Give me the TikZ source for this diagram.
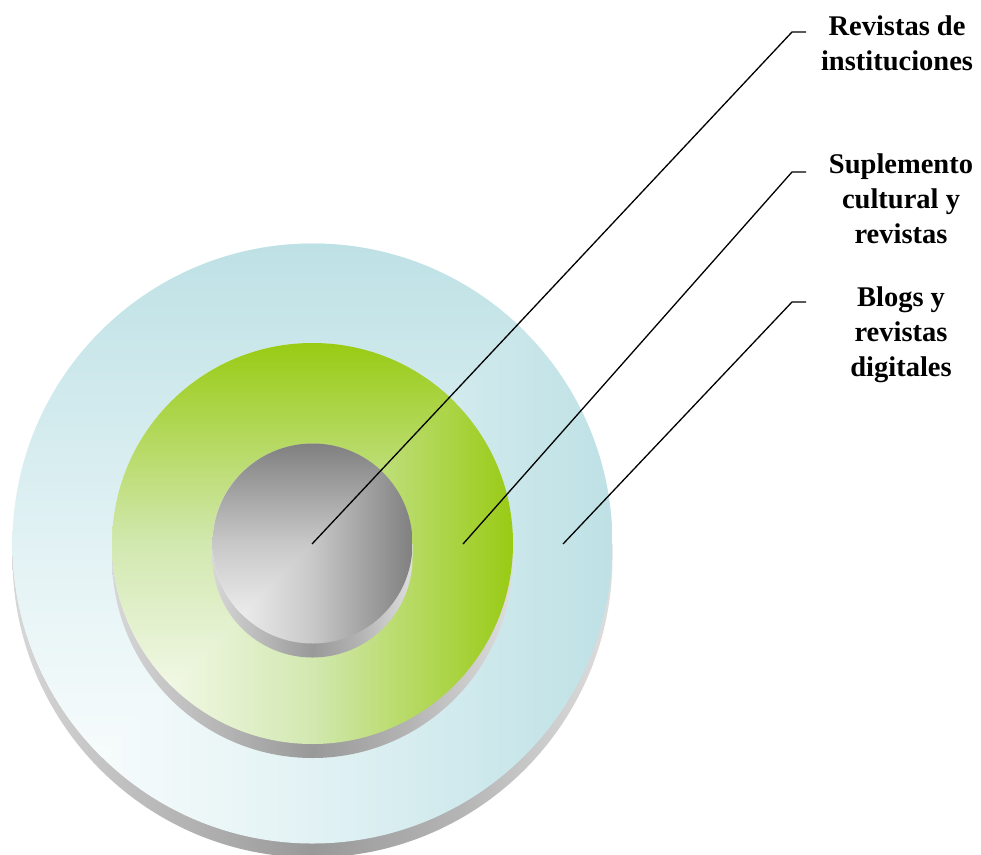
\documentclass[tikz,border=0pt]{standalone}
\usepackage{fontspec}
\setmainfont{Liberation Serif}
\definecolor{bl0}{RGB}{255,255,255}
\definecolor{blm}{RGB}{226,242,244}
\definecolor{bl1}{RGB}{190,225,229}
\definecolor{gr0}{RGB}{253,254,250}
\definecolor{grm}{RGB}{210,232,176}
\definecolor{gr1}{RGB}{153,203,20}
\definecolor{gy0}{RGB}{250,250,250}
\definecolor{gym}{RGB}{200,200,200}
\definecolor{gy1}{RGB}{128,128,128}
\definecolor{sd0}{RGB}{215,215,215}
\definecolor{sd1}{RGB}{153,153,153}
\definecolor{sd2}{RGB}{180,180,180}
\definecolor{sd3}{RGB}{222,222,222}
\pgfdeclarehorizontalshading{blH}{100bp}{color(0bp)=(bl0); color(25bp)=(bl0); color(50bp)=(blm); color(75bp)=(bl1); color(100bp)=(bl1)}
\pgfdeclareverticalshading{blV}{100bp}{color(0bp)=(bl0); color(25bp)=(bl0); color(50bp)=(blm); color(75bp)=(bl1); color(100bp)=(bl1)}
\pgfdeclarehorizontalshading{grH}{100bp}{color(0bp)=(gr0); color(25bp)=(gr0); color(50bp)=(grm); color(75bp)=(gr1); color(100bp)=(gr1)}
\pgfdeclareverticalshading{grV}{100bp}{color(0bp)=(gr0); color(25bp)=(gr0); color(50bp)=(grm); color(75bp)=(gr1); color(100bp)=(gr1)}
\pgfdeclarehorizontalshading{gyH}{100bp}{color(0bp)=(gy0); color(25bp)=(gy0); color(50bp)=(gym); color(75bp)=(gy1); color(100bp)=(gy1)}
\pgfdeclareverticalshading{gyV}{100bp}{color(0bp)=(gy0); color(25bp)=(gy0); color(50bp)=(gym); color(75bp)=(gy1); color(100bp)=(gy1)}
\pgfdeclarehorizontalshading{sideH}{100bp}{color(0bp)=(sd0); color(25bp)=(sd0); color(50bp)=(sd1); color(62bp)=(sd2); color(75bp)=(sd3); color(100bp)=(sd3)}
\newcommand\mydisk[5]{%
  \shade[shading=sideH] (#1-#3,#2) -- (#1-#3,#2+14) arc[start angle=180,end angle=0,radius=#3] -- (#1+#3,#2) -- cycle;
  \begin{scope}
    \clip (#1,#2) circle[radius=#3];
    \shade[shading=#4] (#1-#3,#2-#3) rectangle (#1+#3,#2+#3);
    \clip (#1-#3,#2+#3) -- (#1-#3,#2-#3) -- (#1+#3,#2-#3) -- cycle;
    \shade[shading=#5] (#1-#3,#2-#3) rectangle (#1+#3,#2+#3);
  \end{scope}}
\tikzset{
  lbl/.style={font=\fontsize{28.5}{35.2}\selectfont\bfseries, align=center, inner sep=0pt, anchor=north},
  leader/.style={draw=black, line width=1.3pt}
}
\begin{document}
\begin{tikzpicture}[x=1pt,y=-1pt]
\useasboundingbox (0,0) rectangle (981,854);
\mydisk{312.5}{543.5}{300}{blH}{blV}
\mydisk{312.5}{543.5}{200.5}{grH}{grV}
\mydisk{312.5}{543.5}{100}{gyH}{gyV}
\coordinate (p1) at (312,544);
\coordinate (k1) at (792,32);
\coordinate (e1) at (806,32);
\coordinate (p2) at (463,544);
\coordinate (k2) at (792,172);
\coordinate (e2) at (806,172);
\coordinate (p3) at (563,544);
\coordinate (k3) at (792,302);
\coordinate (e3) at (806,302);
\draw[leader] (p1) -- (k1) -- (e1);
\draw[leader] (p2) -- (k2) -- (e2);
\draw[leader] (p3) -- (k3) -- (e3);
\node[lbl] (t1) at (897,15.5) {Revistas de\\instituciones};
\node[lbl] (t2) at (901,153.5) {Suplemento\\cultural y\\revistas};
\node[lbl] (t3) at (901,286.5) {Blogs y\\revistas\\digitales};
\end{tikzpicture}
\end{document}
